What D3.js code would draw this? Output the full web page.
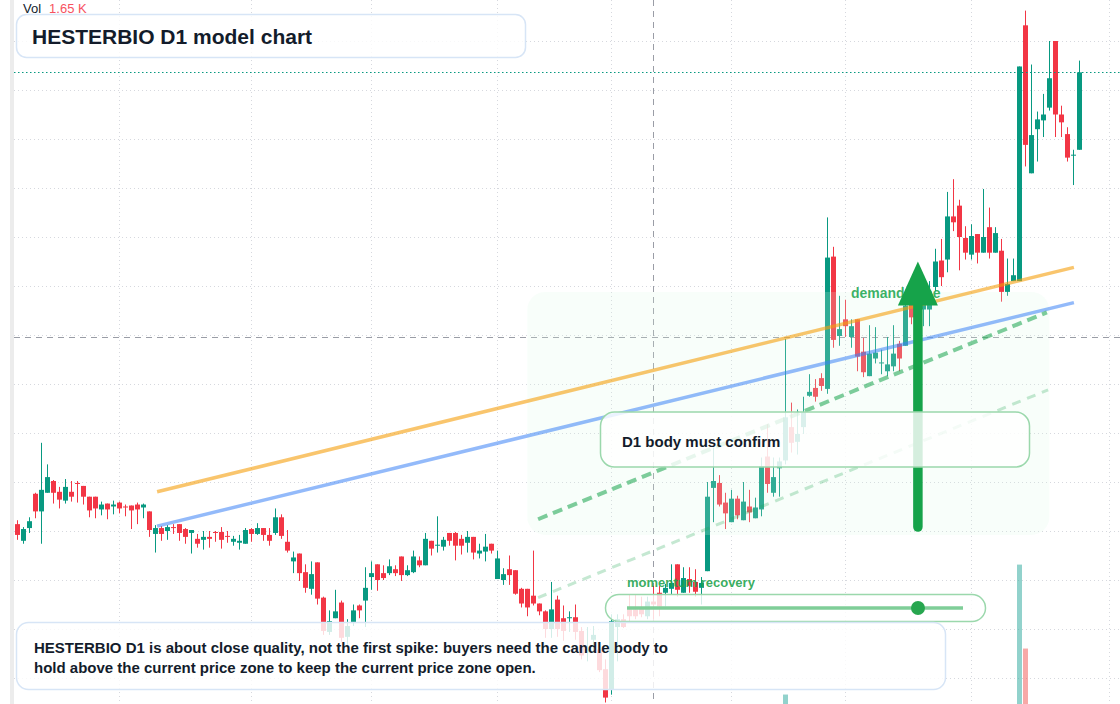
<!DOCTYPE html>
<html>
<head>
<meta charset="utf-8">
<script src="https://cdn.jsdelivr.net/npm/d3@7"></script>
<style>
  body { margin: 0; background: #fff; }
  svg { display: block; font-family: "Liberation Sans", Arial, sans-serif; }
</style>
</head>
<body>
<div id="chart"></div>
<script>
// daily candles, one per session
const opens = [
  2107, 2090, 2103, 2138, 2120, 2139, 2151, 2140, 2131, 2140,
  2149, 2146, 2135, 2135, 2122, 2128, 2125, 2129, 2125, 2126,
  2127, 2124, 2120, 2097, 2103, 2100, 2104, 2107, 2102, 2098,
  2092, 2091, 2094, 2099, 2099, 2095, 2089, 2088, 2087, 2102,
  2097, 2103, 2096, 2098, 2114, 2089, 2069, 2077, 2058, 2041,
  2068, 2032, 1997, 2011, 2027, 1992, 2006, 2024, 2029, 2053,
  2066, 2057, 2057, 2061, 2074, 2055, 2058, 2070, 2065, 2090,
  2085, 2084, 2098, 2098, 2092, 2088, 2094, 2077, 2079, 2087,
  2051, 2050, 2061, 2060, 2041, 2041, 2034, 2026, 2018, 2000,
  2030, 2011, 2011, 2012, 1998, 1976, 1989, 1979, 1959, 1938,
  2002, 2010, 2020, 2020, 2022, 2013, 2028, 2037, 2037, 2041,
  2066, 2037, 2051, 2048, 2042, 2059, 2144, 2149, 2129, 2109,
  2133, 2111, 2125, 2113, 2122, 2176, 2139, 2164, 2172, 2206,
  2191, 2206, 2238, 2246, 2256, 2245, 2380, 2299, 2316, 2298,
  2316, 2283, 2258, 2276, 2271, 2263, 2268, 2291, 2289, 2333,
  2311, 2326, 2326, 2349, 2376, 2377, 2421, 2432, 2399, 2382,
  2403, 2384, 2410, 2384, 2386, 2344, 2355, 2355, 2616, 2465,
  2510, 2519, 2532, 2600, 2525, 2505, 2483, 2489
];
const highs = [
  2111, 2104, 2114, 2139, 2190, 2168, 2152, 2145, 2153, 2151,
  2151, 2146, 2135, 2135, 2130, 2128, 2131, 2130, 2127, 2126,
  2129, 2128, 2120, 2106, 2105, 2106, 2107, 2107, 2103, 2101,
  2097, 2100, 2100, 2100, 2104, 2100, 2095, 2096, 2103, 2103,
  2108, 2103, 2103, 2123, 2117, 2101, 2079, 2077, 2066, 2069,
  2068, 2033, 2019, 2040, 2029, 2010, 2025, 2025, 2063, 2069,
  2066, 2065, 2071, 2065, 2074, 2065, 2080, 2074, 2098, 2090,
  2115, 2094, 2098, 2099, 2096, 2100, 2094, 2087, 2097, 2087,
  2080, 2062, 2075, 2060, 2042, 2041, 2080, 2026, 2019, 2048,
  2034, 2024, 2018, 2025, 2002, 2002, 2003, 1987, 1969, 2015,
  2015, 2015, 2035, 2035, 2033, 2033, 2044, 2044, 2046, 2066,
  2066, 2063, 2063, 2061, 2053, 2150, 2185, 2157, 2139, 2142,
  2136, 2150, 2142, 2134, 2175, 2209, 2175, 2175, 2296, 2231,
  2224, 2237, 2260, 2255, 2261, 2420, 2390, 2340, 2336, 2316,
  2316, 2297, 2310, 2308, 2285, 2298, 2310, 2294, 2333, 2338,
  2336, 2352, 2355, 2388, 2398, 2446, 2459, 2438, 2411, 2413,
  2403, 2449, 2430, 2410, 2398, 2378, 2378, 2574, 2631, 2576,
  2528, 2546, 2600, 2600, 2534, 2512, 2489, 2580
];
const lows = [
  2091, 2087, 2098, 2113, 2087, 2139, 2128, 2123, 2128, 2130,
  2129, 2127, 2114, 2113, 2116, 2112, 2117, 2118, 2115, 2102,
  2107, 2113, 2094, 2078, 2090, 2091, 2097, 2090, 2087, 2077,
  2083, 2081, 2083, 2089, 2082, 2088, 2085, 2081, 2087, 2089,
  2096, 2090, 2085, 2096, 2092, 2078, 2057, 2049, 2037, 2035,
  2025, 1994, 1994, 2011, 1987, 1984, 2003, 2011, 2002, 2040,
  2039, 2050, 2055, 2054, 2049, 2054, 2057, 2063, 2065, 2075,
  2078, 2080, 2085, 2070, 2076, 2078, 2071, 2072, 2069, 2077,
  2051, 2045, 2045, 2035, 2022, 2013, 2024, 2014, 1991, 1991,
  1992, 1988, 1997, 1989, 1969, 1967, 1976, 1956, 1925, 1933,
  1967, 2001, 2008, 2010, 2012, 2010, 2010, 2013, 2023, 2035,
  2033, 2037, 2037, 2033, 2025, 2059, 2109, 2125, 2102, 2109,
  2112, 2111, 2109, 2113, 2115, 2139, 2135, 2135, 2168, 2180,
  2178, 2199, 2237, 2232, 2243, 2240, 2287, 2289, 2298, 2287,
  2263, 2257, 2258, 2271, 2260, 2258, 2263, 2263, 2289, 2311,
  2306, 2309, 2309, 2345, 2350, 2364, 2406, 2366, 2377, 2377,
  2373, 2384, 2378, 2384, 2334, 2340, 2355, 2355, 2472, 2465,
  2477, 2502, 2529, 2502, 2502, 2477, 2453, 2489
];
const closes = [
  2096, 2102, 2110, 2120, 2142, 2155, 2139, 2132, 2145, 2135,
  2148, 2135, 2121, 2123, 2127, 2122, 2127, 2123, 2124, 2121,
  2122, 2127, 2101, 2103, 2097, 2104, 2103, 2098, 2094, 2101,
  2087, 2094, 2092, 2098, 2091, 2094, 2092, 2090, 2101, 2097,
  2103, 2096, 2090, 2114, 2095, 2080, 2073, 2057, 2042, 2056,
  2031, 1998, 2008, 2018, 1991, 2003, 2019, 2019, 2042, 2057,
  2050, 2052, 2064, 2057, 2055, 2060, 2074, 2065, 2092, 2082,
  2086, 2091, 2090, 2085, 2085, 2094, 2078, 2080, 2084, 2080,
  2072, 2056, 2055, 2036, 2026, 2022, 2026, 2018, 2000, 2020,
  2000, 1998, 2012, 1997, 1973, 1979, 1994, 1958, 1930, 2008,
  2010, 2002, 2013, 2013, 2015, 2028, 2025, 2023, 2042, 2047,
  2040, 2052, 2044, 2038, 2047, 2135, 2151, 2127, 2118, 2133,
  2116, 2130, 2119, 2124, 2166, 2148, 2155, 2171, 2216, 2190,
  2199, 2221, 2242, 2237, 2248, 2379, 2295, 2306, 2309, 2309,
  2278, 2262, 2281, 2282, 2272, 2270, 2281, 2276, 2330, 2318,
  2331, 2347, 2341, 2375, 2359, 2421, 2415, 2400, 2384, 2401,
  2384, 2400, 2384, 2404, 2344, 2352, 2361, 2574, 2494, 2504,
  2520, 2525, 2562, 2525, 2517, 2481, 2484, 2568
];

// volume (thousands) for the bars that reach into view, plus the hovered one
const volIdx = [106, 128, 167, 168];
const volVal = [1.65, 8.3, 19.6, 12.3];

// grid: price ticks and month starts (bar index)
const priceTicks = [1950, 2000, 2050, 2100, 2150, 2200, 2250, 2300, 2350, 2400, 2450, 2500, 2550, 2600];
const monthStartIdx = [17, 39, 59, 80, 99, 119, 138, 159, 182];

// crosshair
const hoverIdx = 106;
const hoverPrice = 2298;

// annotations: [startIdx, startPrice, endIdx, endPrice]
const resistLine = [23.3, 2140, 176.1, 2369];
const supportLine = [23.3, 2105, 176.1, 2333];
const channelUpper = [86.8, 2112, 171.6, 2323];
const channelLower = [86.8, 2032, 171.8, 2244];
const demandZone = [85, 172, 2096, 2344];   // idx0, idx1, low, high
const arrowUp = [150.1, 2104, 2375];         // idx, from, to

const W = 1120, H = 704;
const up = '#089981', down = '#f23645';
const ink = '#131c2b';

const x = d3.scaleLinear().domain([0, 177]).range([17.3, 1079.3]);
const y = d3.scaleLinear().domain([1950, 2600]).range([678, 41]);
const yVol = d3.scaleLinear().domain([0, 20]).range([790, 560]);

const bars = opens.map((o, i) => ({ i, o, h: highs[i], l: lows[i], c: closes[i] }));

const svg = d3.select('#chart').append('svg').attr('width', W).attr('height', H);

// left edge strip
svg.append('rect').attr('x', 10).attr('y', 0).attr('width', 4).attr('height', H).attr('fill', '#ececec');

// grid
const grid = svg.append('g').attr('stroke', '#d6d8de').attr('stroke-dasharray', '1,3');
grid.selectAll('.gh').data(priceTicks).enter().append('line')
  .attr('x1', 14).attr('x2', W)
  .attr('y1', d => Math.round(y(d)) + 0.5).attr('y2', d => Math.round(y(d)) + 0.5);
grid.selectAll('.gv').data(monthStartIdx).enter().append('line')
  .attr('x1', d => Math.round(x(d)) + 0.5).attr('x2', d => Math.round(x(d)) + 0.5)
  .attr('y1', 0).attr('y2', H);

// crosshair
const cross = svg.append('g').attr('stroke', '#9a9da6').attr('stroke-dasharray', '6,5');
cross.append('line').attr('x1', Math.round(x(hoverIdx)) + 0.5).attr('x2', Math.round(x(hoverIdx)) + 0.5)
  .attr('y1', 0).attr('y2', H);
cross.append('line').attr('x1', 14).attr('x2', W)
  .attr('y1', Math.round(y(hoverPrice)) + 0.5).attr('y2', Math.round(y(hoverPrice)) + 0.5);

// volume
svg.append('g').selectAll('rect').data(volIdx).enter().append('rect')
  .attr('x', d => Math.round(x(d)) - 2)
  .attr('width', 5)
  .attr('y', (d, k) => yVol(volVal[k]))
  .attr('height', (d, k) => yVol(0) - yVol(volVal[k]))
  .attr('fill', d => closes[d] >= opens[d] ? 'rgba(38,166,154,0.5)' : 'rgba(239,83,80,0.5)');

// candles
const candle = svg.append('g').selectAll('.candle').data(bars).enter().append('g')
  .attr('fill', d => d.c >= d.o ? up : down)
  .attr('stroke', d => d.c >= d.o ? up : down);
candle.append('line')
  .attr('x1', d => Math.round(x(d.i)) + 0.5).attr('x2', d => Math.round(x(d.i)) + 0.5)
  .attr('y1', d => y(d.h)).attr('y2', d => y(d.l));
candle.append('rect')
  .attr('stroke', 'none')
  .attr('x', d => Math.round(x(d.i)) - 2)
  .attr('width', 5)
  .attr('y', d => y(Math.max(d.o, d.c)))
  .attr('height', d => Math.max(1, Math.abs(y(d.o) - y(d.c))));

// demand zone
svg.append('rect')
  .attr('x', x(demandZone[0])).attr('width', x(demandZone[1]) - x(demandZone[0]))
  .attr('y', y(demandZone[3])).attr('height', y(demandZone[2]) - y(demandZone[3]))
  .attr('rx', 18)
  .attr('fill', 'rgba(220,252,231,0.2)');

const seg = (g, s) => g.append('line')
  .attr('x1', x(s[0])).attr('y1', y(s[1])).attr('x2', x(s[2])).attr('y2', y(s[3]));

seg(svg, resistLine).attr('stroke', '#f59e0b').attr('stroke-opacity', 0.6).attr('stroke-width', 3.5);
seg(svg, supportLine).attr('stroke', '#3b82f6').attr('stroke-opacity', 0.55).attr('stroke-width', 3.5);
seg(svg, channelUpper).attr('stroke', '#16a34a').attr('stroke-opacity', 0.55).attr('stroke-width', 4)
  .attr('stroke-dasharray', '10,6');
seg(svg, channelLower).attr('stroke', '#16a34a').attr('stroke-opacity', 0.25).attr('stroke-width', 3)
  .attr('stroke-dasharray', '9,7');

// demand zone label
svg.append('text').attr('x', 851).attr('y', y(demandZone[3]) + 6)
  .attr('font-size', 14).attr('font-weight', 700).attr('fill', '#16a34a').attr('fill-opacity', 0.85)
  .text('demand zone');

// arrow
const ax = x(arrowUp[0]);
const headLen = 44;
svg.append('line').attr('x1', ax).attr('x2', ax)
  .attr('y1', y(arrowUp[1])).attr('y2', y(arrowUp[2]) + headLen - 2)
  .attr('stroke', '#16a34a').attr('stroke-width', 9.5).attr('stroke-linecap', 'round');
svg.append('path')
  .attr('d', `M${ax},${y(arrowUp[2])} L${ax + 20},${y(arrowUp[2]) + headLen} L${ax - 20},${y(arrowUp[2]) + headLen} Z`)
  .attr('fill', '#16a34a');

// callout boxes
const box = (x0, y0, w, h, r, stroke) => svg.append('rect')
  .attr('x', x0).attr('y', y0).attr('width', w).attr('height', h).attr('rx', r)
  .attr('fill', 'rgba(255,255,255,0.82)').attr('stroke', stroke).attr('stroke-width', 1.5);

box(600.5, 412, 429, 55, 14, '#9bd8ac');
svg.append('text').attr('x', 622).attr('y', 447).attr('font-size', 15).attr('font-weight', 700)
  .attr('fill', ink).text('D1 body must confirm');

svg.append('text').attr('x', 627).attr('y', 587).attr('font-size', 13).attr('font-weight', 700)
  .attr('fill', '#22a34d').attr('fill-opacity', 0.9).text('momentum recovery');
box(605.5, 594.5, 380, 27, 13.5, '#9bd8ac');
svg.append('line').attr('x1', 627).attr('x2', 963).attr('y1', 608).attr('y2', 608)
  .attr('stroke', '#7fce98').attr('stroke-width', 3.5);
svg.append('circle').attr('cx', 918).attr('cy', 608).attr('r', 7).attr('fill', '#27a64f');

box(16.5, 14.5, 509, 43, 10, '#d7e5f6');
svg.append('text').attr('x', 32).attr('y', 43.5).attr('font-size', 21).attr('font-weight', 700)
  .attr('fill', ink).text('HESTERBIO D1 model chart');

box(16.5, 622.5, 929, 67, 12, '#d7e5f6');
const note = svg.append('text').attr('font-size', 15).attr('font-weight', 700).attr('fill', ink);
note.append('tspan').attr('x', 34).attr('y', 652.5)
  .text('HESTERBIO D1 is about close quality, not the first spike: buyers need the candle body to');
note.append('tspan').attr('x', 34).attr('y', 672.5)
  .text('hold above the current price zone to keep the current price zone open.');

// last price line
svg.append('line').attr('x1', 14).attr('x2', W)
  .attr('y1', Math.round(y(closes[closes.length - 1])) + 0.5).attr('y2', Math.round(y(closes[closes.length - 1])) + 0.5)
  .attr('stroke', up).attr('stroke-dasharray', '1.5,2.5');

// volume legend for hovered bar
const hv = volVal[volIdx.indexOf(hoverIdx)];
const leg = svg.append('text').attr('x', 23).attr('y', 13).attr('font-size', 13);
leg.append('tspan').attr('fill', ink).text('Vol');
leg.append('tspan').attr('dx', 8)
  .attr('fill', closes[hoverIdx] >= opens[hoverIdx] ? '#26a69a' : '#f7525f')
  .text(hv.toFixed(2) + ' K');
</script>
</body>
</html>
